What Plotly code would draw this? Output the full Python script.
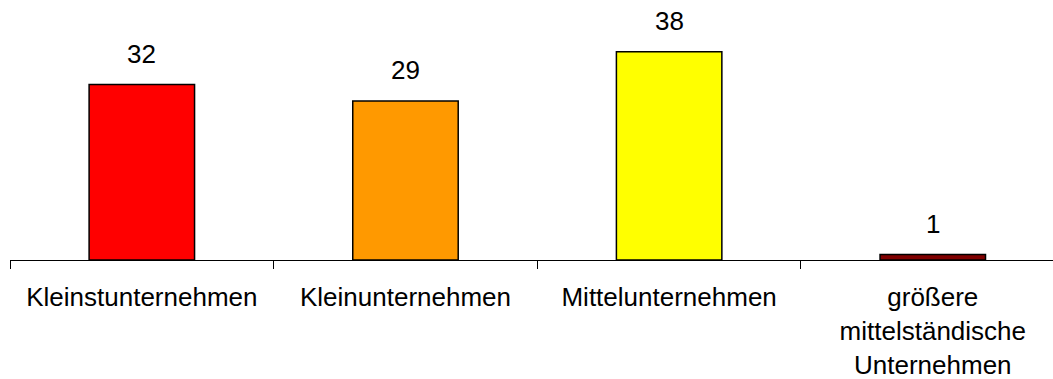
import plotly.graph_objects as go

categories = [
    "Kleinstunternehmen",
    "Kleinunternehmen",
    "Mittelunternehmen",
    "größere<br>mittelständische<br>Unternehmen",
]
values = [32, 29, 38, 1]
bar_colors = ["#FF0000", "#FF9900", "#FFFF00", "#800000"]

FONT = "Liberation Sans, Arial, sans-serif"

fig = go.Figure(
    go.Bar(
        x=categories,
        y=values,
        width=0.4,
        marker=dict(color=bar_colors, line=dict(color="black", width=1.5)),
        hoverinfo="skip",
    )
)

# value labels above each bar
for cat, val in zip(categories, values):
    fig.add_annotation(
        x=cat, y=val, text=str(val), showarrow=False,
        yanchor="middle", yshift=31,
        font=dict(family=FONT, size=26, color="black"),
    )

fig.update_layout(
    width=1053,
    height=379,
    margin=dict(l=10, r=0, t=10, b=119),
    paper_bgcolor="white",
    plot_bgcolor="white",
    showlegend=False,
    font=dict(family=FONT, size=26, color="black"),
    xaxis=dict(
        type="category",
        range=[-0.5, 3.456],
        showline=True,
        linecolor="black",
        linewidth=1,
        ticks="outside",
        tickson="boundaries",
        ticklen=8,
        tickcolor="black",
        tickwidth=1,
        ticklabelstandoff=14,
        showgrid=False,
        tickfont=dict(family=FONT, size=26, color="black"),
    ),
    yaxis=dict(
        range=[0, 45.6],
        visible=False,
        showgrid=False,
        zeroline=False,
    ),
)

fig.write_html("out.html")
